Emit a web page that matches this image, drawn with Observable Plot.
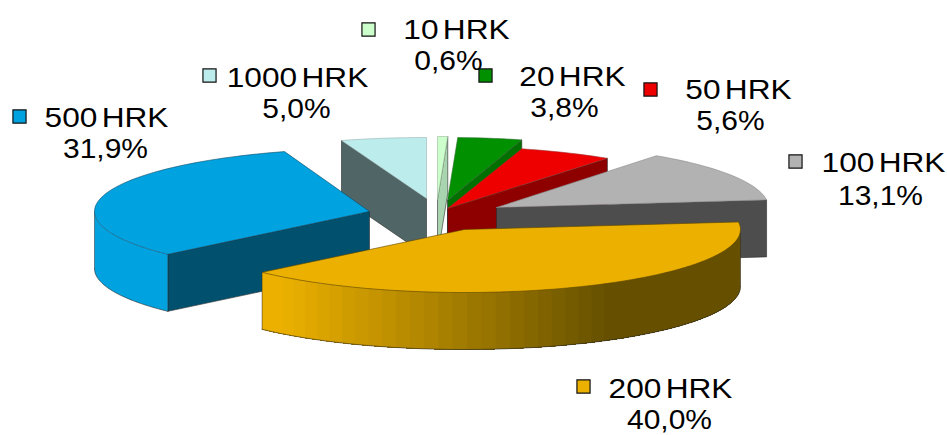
<!DOCTYPE html>
<html><head><meta charset="utf-8">
<script src="https://cdn.jsdelivr.net/npm/d3@7"></script>
<script src="https://cdn.jsdelivr.net/npm/@observablehq/plot@0.6"></script>
<style>html,body{margin:0;padding:0;background:#fff;overflow:hidden}svg{display:block}.lab text{word-spacing:-4px}</style>
</head><body><div id="chart"></div>
<script>
// data, clockwise from twelve o'clock
const categories = ["10 HRK","20 HRK","50 HRK","100 HRK","200 HRK","500 HRK","1000 HRK"];
const shares = [0.6,3.8,5.6,13.1,40.0,31.9,5.0];
const shareLabels = ["0,6%","3,8%","5,6%","13,1%","40,0%","31,9%","5,0%"];

// styling and layout tables
const topColors  = ["#CCFFCC","#009000","#EE0000","#B2B2B2","#ECB100","#00A2E0","#BCECEC"];
const wallColors = ["#A8D5B0","#007000","#8E0000","#4D4D4D","#665000","#00506E","#506666"];
const topEdges   = ["#9ab89a","#2f6f2f","#a03030","#8a8a8a","#5a4300","#0b4a66","#9ab4b4"];
const centerX = [437,447,447,496,464,369,426];
const centerY = [199,200,208,207,229,211,198];
const radiusX = [272,272,272,272,276,275,275];
const radiusY = [63,63,62,64,63,63,61];
const depth = 57;
const swatchX = [368,485,650,795,583,19,209];
const swatchY = [29,75,89,161,386,116,75];
const nameX   = [456,572,738,883,670,106,297];
const shareX  = [448,564,730,880,669,105,296];
const nameY   = [38,85,98,171,397,126,86];
const shareY  = [69,116,129,204,428,157,117];
const drawOrder = [6,0,1,2,3,5,4];

const total = d3.sum(shares);
const rows = [];
let key = 0;
function poly(points, fill, stroke, width){
  key++;
  for (const [x,y] of points) rows.push({x,y,key,fill,stroke,width});
}
let acc = 0;
const slices = shares.map((s,i)=>{
  const a0 = acc/total*360; acc += s; const a1 = acc/total*360;
  return {i,a0,a1};
});
function pt(i,a,dz=0){
  const t = a*Math.PI/180;
  return [centerX[i]+radiusX[i]*Math.sin(t), centerY[i]-radiusY[i]*Math.cos(t)+dz];
}
const edge = "#2a2a2a";
const gradient = d3.scaleLinear().domain([280,610]).range([topColors[4],wallColors[4]]).interpolate(d3.interpolateRgb).clamp(true);
for (const o of drawOrder){
  const {a0,a1} = slices[o];
  const c = [centerX[o],centerY[o]];
  const c2 = [c[0],c[1]+depth];
  const sin = a=>Math.sin(a*Math.PI/180);
  // cut faces that look at the viewer
  if (sin(a0)<-1e-6) poly([c,pt(o,a0),pt(o,a0,depth),c2,c],wallColors[o],edge,0.6);
  if (sin(a1)>1e-6 && a1<90) poly([c,pt(o,a1),pt(o,a1,depth),c2,c],wallColors[o],edge,0.6);
  // curved outer wall, front half only; each band runs on to the wall's end and the next paints over it
  const w0 = Math.max(a0,90), w1 = Math.min(a1,270);
  if (w1>w0){
    const n = Math.ceil(w1-w0);
    const arc = d3.range(n+1).map(k=>w0+(w1-w0)*k/n);
    const bandEvery = o===4 ? 3 : n;
    for (const b of d3.range(0,n,bandEvery)){
      const part = arc.slice(b);
      const up = part.map(a=>pt(o,a));
      const down = part.map(a=>pt(o,a,depth)).reverse();
      const mid = pt(o,arc[Math.min(b+1,n)])[0];
      const col = o===4 ? gradient(mid) : topColors[o];
      poly([...up,...down,up[0]],col,"none",0);
    }
    poly(arc.map(a=>pt(o,a,depth)),"none",edge,0.6);
    poly([pt(o,w0),pt(o,w0,depth)],"none",edge,0.5);
    poly([pt(o,w1),pt(o,w1,depth)],"none",edge,0.5);
  }
  // top surface
  const top = [c];
  const n = Math.max(2,Math.ceil((a1-a0)/2));
  for (let k=0;k<=n;k++) top.push(pt(o,a0+(a1-a0)*k/n));
  top.push(c);
  poly(top,topColors[o],topEdges[o],0.6);
}

const idx = d3.range(categories.length);
const plot = Plot.plot({
  width:947,height:435,margin:0,
  x:{domain:[0,947],range:[0,947],axis:null},
  y:{domain:[0,435],range:[0,435],axis:null},
  marks:[
    Plot.line(rows,{x:"x",y:"y",z:"key",
      fill:{value:"fill",scale:null},stroke:{value:"stroke",scale:null},strokeWidth:"width",
      strokeLinejoin:"miter",curve:"linear"}),
    Plot.dot(idx,{x:i=>swatchX[i],y:i=>swatchY[i],symbol:"square",r:7.4,
      fill:{value:i=>topColors[i],scale:null},stroke:"#111",strokeWidth:1.2}),
    Plot.text(idx,{x:i=>nameX[i],y:i=>nameY[i],text:i=>categories[i],
      fontFamily:"Liberation Sans",fontSize:28,fill:"#000",lineAnchor:"bottom",textAnchor:"middle",className:"lab"}),
    Plot.text(idx,{x:i=>shareX[i],y:i=>shareY[i],text:i=>shareLabels[i],
      fontFamily:"Liberation Sans",fontSize:28,fill:"#000",lineAnchor:"bottom",textAnchor:"middle",className:"lab"})
  ]
});
document.getElementById("chart").append(plot);
// the reference's type is set slightly wide
plot.querySelectorAll(".lab text").forEach((t)=>{
  const s = t.textContent;
  const w = t.getComputedTextLength();
  t.setAttribute("textLength",(w*(s.includes(" ")?1.13:1.07)).toFixed(1));
  t.setAttribute("lengthAdjust","spacingAndGlyphs");
});
</script></body></html>
